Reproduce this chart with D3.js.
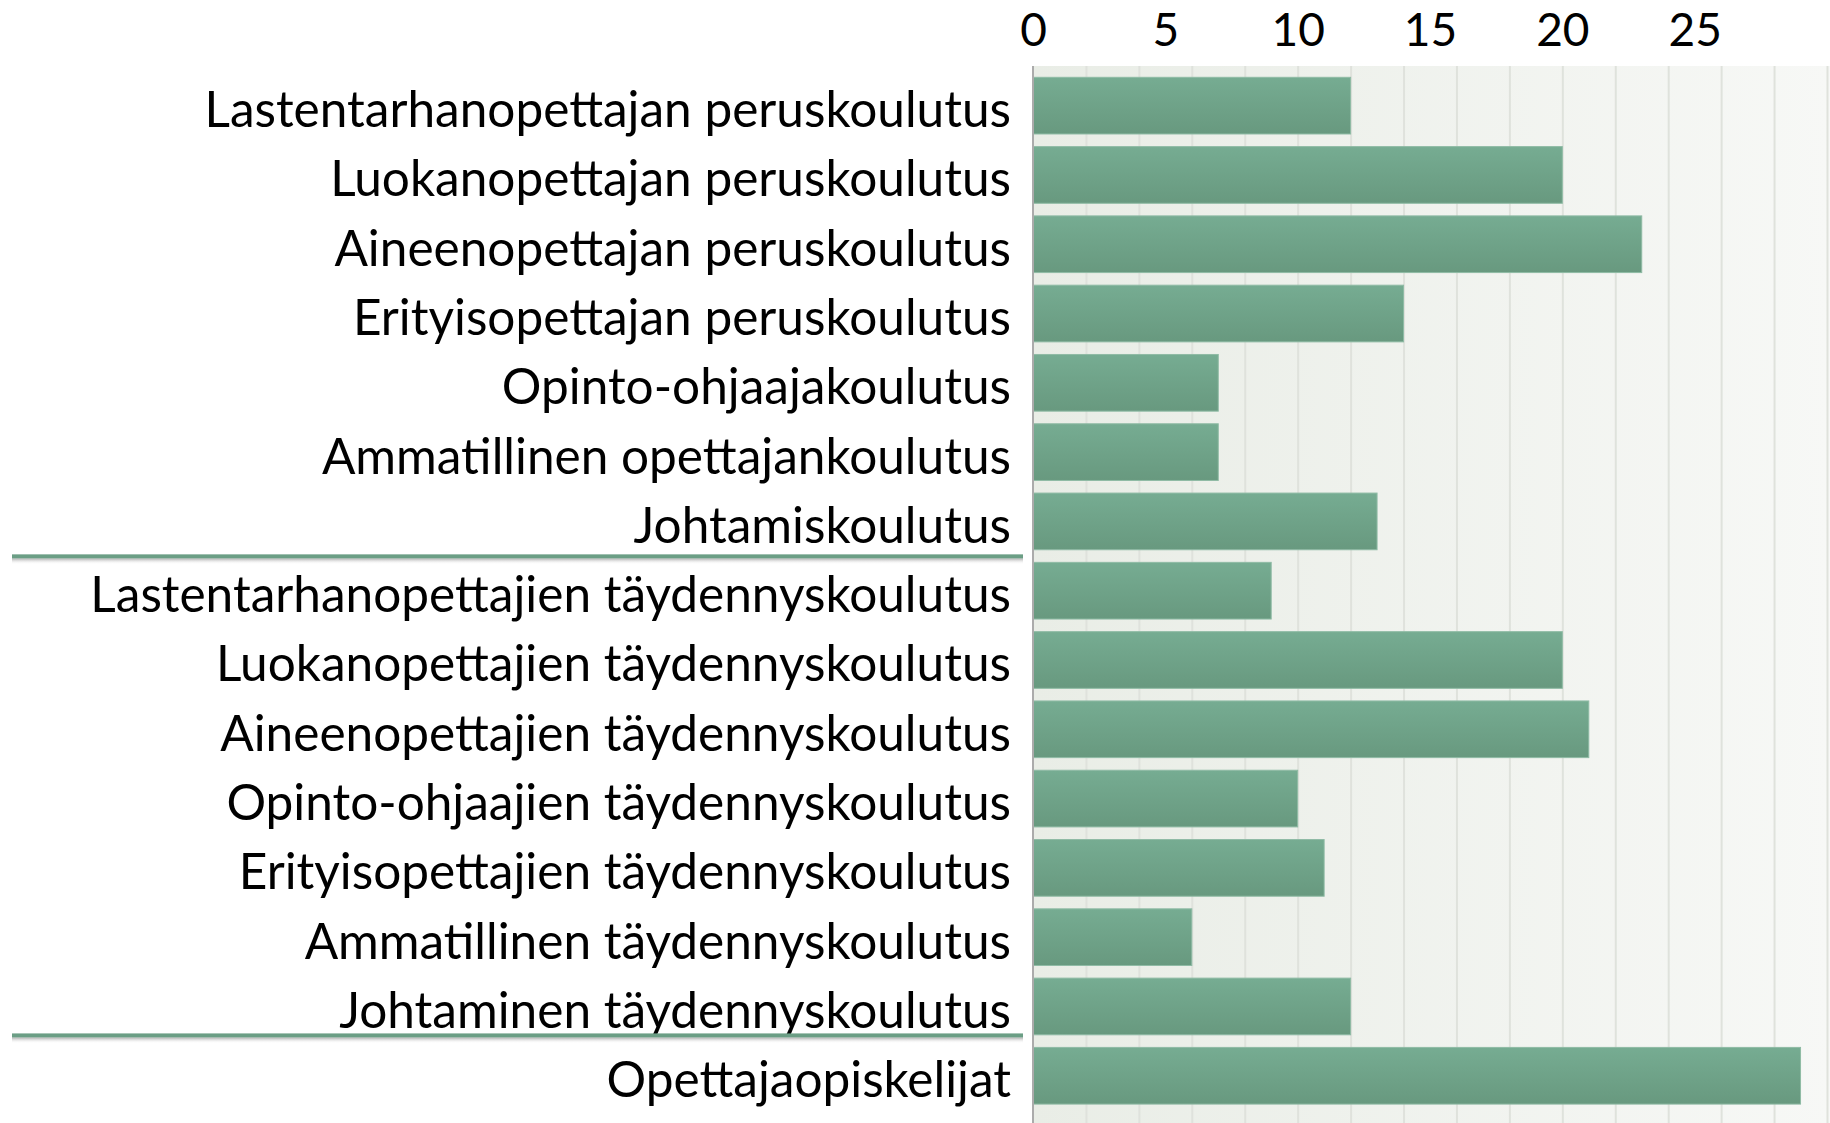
<!DOCTYPE html>
<html>
<head>
<meta charset="utf-8">
<script src="https://cdn.jsdelivr.net/npm/d3@7"></script>
<style>
  html, body { margin: 0; padding: 0; background: #ffffff; }
  svg { display: block; }
</style>
</head>
<body>
<svg id="chart" width="1830" height="1123"></svg>
<script>
const categories = [
  "Lastentarhanopettajan peruskoulutus",
  "Luokanopettajan peruskoulutus",
  "Aineenopettajan peruskoulutus",
  "Erityisopettajan peruskoulutus",
  "Opinto-ohjaajakoulutus",
  "Ammatillinen opettajankoulutus",
  "Johtamiskoulutus",
  "Lastentarhanopettajien täydennyskoulutus",
  "Luokanopettajien täydennyskoulutus",
  "Aineenopettajien täydennyskoulutus",
  "Opinto-ohjaajien täydennyskoulutus",
  "Erityisopettajien täydennyskoulutus",
  "Ammatillinen täydennyskoulutus",
  "Johtaminen täydennyskoulutus",
  "Opettajaopiskelijat"
];
const values = [12, 20, 23, 14, 7, 7, 13, 9, 20, 21, 10, 11, 6, 12, 29];
const tickLabels = [0, 5, 10, 15, 20, 25];
const gridValues = [0, 2, 4, 6, 8, 10, 12, 14, 16, 18, 20, 22, 24, 26, 28, 30];
// separators drawn above these categories
const separatorBefore = ["Lastentarhanopettajien täydennyskoulutus", "Opettajaopiskelijat"];

const W = 1830, H = 1123;
const plotLeft = 1033, plotRight = 1827, plotTop = 66, plotBottom = H;

const svg = d3.select("#chart");
const defs = svg.append("defs");

const bg = defs.append("linearGradient").attr("id", "bgGrad")
  .attr("x1", "0").attr("x2", "1").attr("y1", "0").attr("y2", "0");
bg.append("stop").attr("offset", "0").attr("stop-color", "#e9ede6");
bg.append("stop").attr("offset", "1").attr("stop-color", "#f7f8f6");

const barGrad = defs.append("linearGradient").attr("id", "barGrad")
  .attr("x1", "0").attr("x2", "0").attr("y1", "0").attr("y2", "1");
barGrad.append("stop").attr("offset", "0").attr("stop-color", "#76ac92");
barGrad.append("stop").attr("offset", "1").attr("stop-color", "#68997f");

const shadowGrad = defs.append("linearGradient").attr("id", "shadowGrad")
  .attr("x1", "0").attr("x2", "0").attr("y1", "0").attr("y2", "1");
shadowGrad.append("stop").attr("offset", "0").attr("stop-color", "#9a9a9a").attr("stop-opacity", 0.8);
shadowGrad.append("stop").attr("offset", "1").attr("stop-color", "#ffffff").attr("stop-opacity", 0);

const x = d3.scaleLinear().domain([0, 30]).range([plotLeft, plotRight]);
const y = d3.scaleBand().domain(categories)
  .range([71, 1110.4]).paddingInner(0.182).paddingOuter(0.091);

// plot background
svg.append("rect")
  .attr("x", plotLeft).attr("y", plotTop)
  .attr("width", W - plotLeft).attr("height", plotBottom - plotTop)
  .attr("fill", "url(#bgGrad)");

// gridlines
const gridAxis = d3.axisTop(x).tickValues(gridValues.slice(1))
  .tickSize(-(plotBottom - plotTop)).tickFormat("");
const gridG = svg.append("g").attr("transform", `translate(0,${plotTop})`).call(gridAxis);
gridG.select(".domain").remove();
gridG.selectAll(".tick line").attr("stroke", "#dfe2dc").attr("stroke-width", 2);

// bars
svg.append("g").selectAll("rect").data(categories).join("rect")
  .attr("x", x(0))
  .attr("y", d => y(d))
  .attr("width", (d, i) => x(values[i]) - x(0))
  .attr("height", y.bandwidth())
  .attr("fill", "url(#barGrad)")
  .attr("stroke", "#8fbba5")
  .attr("stroke-width", 1);

// vertical axis line
svg.append("line")
  .attr("x1", plotLeft).attr("x2", plotLeft)
  .attr("y1", plotTop).attr("y2", plotBottom)
  .attr("stroke", "#ababab").attr("stroke-width", 2);

// top tick labels
const tickAxis = d3.axisTop(x).tickValues(tickLabels).tickSize(0).tickPadding(0);
const tickG = svg.append("g").attr("transform", `translate(0,46)`).call(tickAxis);
tickG.select(".domain").remove();
tickG.selectAll(".tick text")
  .attr("y", 0).attr("dy", 0)
  .attr("font-family", "Lato, 'Open Sans', sans-serif")
  .attr("font-size", 46)
  .attr("fill", "#000");

// category labels
const labelG = svg.append("g");
const labels = labelG.selectAll("text").data(categories).join("text")
  .attr("x", 1011)
  .attr("y", d => y(d) + y.bandwidth() / 2 + 21.5)
  .attr("text-anchor", "end")
  .attr("font-family", "Lato, 'Open Sans', sans-serif")
  .attr("font-size", 50)
  .attr("fill", "#000")
  .text(d => d);

// scale font so the longest label matches the reference width (~921px)
let maxW = 0;
labels.each(function () { maxW = Math.max(maxW, this.getComputedTextLength()); });
const fs = 50 * 921 / maxW;
labels.attr("font-size", fs);

// separator lines
const sepOffsets = [6, 12];
separatorBefore.forEach((c, i) => {
  const yy = y(c) - sepOffsets[i];
  svg.append("rect")
    .attr("x", 12).attr("y", yy + 2)
    .attr("width", 1011).attr("height", 6)
    .attr("fill", "url(#shadowGrad)");
  svg.append("rect")
    .attr("x", 12).attr("y", yy - 2)
    .attr("width", 1011).attr("height", 4)
    .attr("fill", "#6b9e85");
});
</script>
</body>
</html>
